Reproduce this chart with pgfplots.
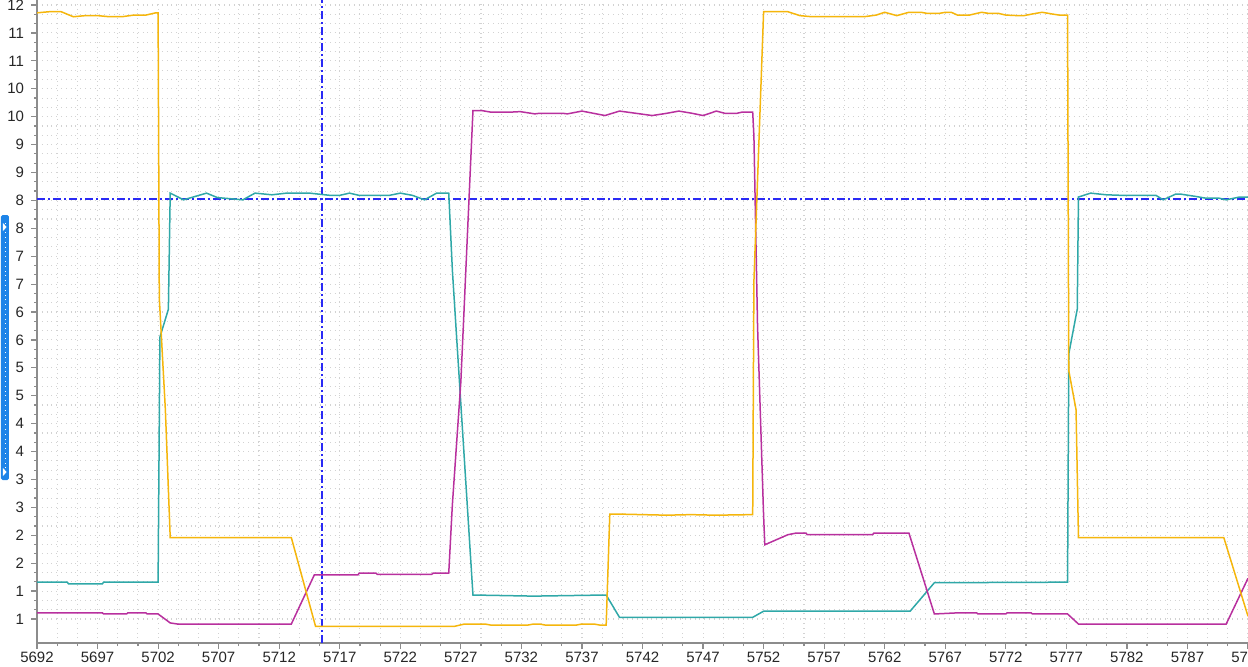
\documentclass[border=0pt]{standalone}
\usepackage{fontspec}
\setmainfont{Liberation Sans}
\usepackage{pgfplots}
\pgfplotsset{compat=1.18}

\definecolor{cyel}{HTML}{F5B60C}
\definecolor{cteal}{HTML}{2FA8A8}
\definecolor{cmag}{HTML}{B8309E}
\definecolor{cgrid}{HTML}{D2D2D2}
\definecolor{caxis}{HTML}{8C8C8C}
\definecolor{ccur}{HTML}{2A2AF5}
\definecolor{cslide}{HTML}{1E84E8}

\begin{document}
\begin{tikzpicture}
\begin{axis}[
  scale only axis, width=605.5pt, height=321.5pt,
  xmin=5692, xmax=5792, ymin=0.32, ymax=11.84,
  axis lines*=left,
  axis line style={caxis, line width=1pt},
  xtick={5692,5697,5702,5707,5712,5717,5722,5727,5732,5737,5742,5747,5752,5757,5762,5767,5772,5777,5782,5787,5792},
  ytick={0.75,1.25,1.75,2.25,2.75,3.25,3.75,4.25,4.75,5.25,5.75,6.25,6.75,7.25,7.75,8.25,8.75,9.25,9.75,10.25,10.75,11.25,11.75},
  yticklabels={1,1,2,2,3,3,4,4,5,5,6,6,7,7,8,8,9,9,10,10,11,11,12},
  minor x tick num=2, minor y tick num=2,
  tick align=outside, major tick length=3pt, minor tick length=1.5pt,
  tick style={caxis, line width=0.6pt},
  grid=both,
  major grid style={cgrid, dotted, line width=0.55pt},
  minor grid style={cgrid, dotted, line width=0.55pt},
  tick label style={font=\fontsize{7.5}{8}\selectfont, text=black!85},
  xticklabel style={yshift=1.8pt},
  /pgf/number format/assume math mode=true,
  /pgf/number format/1000 sep={},
  clip=true,
]
\coordinate (SW) at (rel axis cs:0,0);
\coordinate (NE) at (rel axis cs:1,1);

% cursor lines
\addplot[ccur, line width=0.85pt, dash pattern=on 4pt off 1.5pt on 1pt off 1.5pt] coordinates {(5692,8.28) (5792,8.28)};
\addplot[color=ccur, line width=1pt, dash pattern=on 4pt off 1.5pt on 1pt off 1.5pt] coordinates {(5715.55,0.32) (5715.55,11.84)};

% teal
\addplot[cteal, line width=0.75pt] coordinates {
(5692,1.41) (5694.5,1.41) (5694.6,1.38) (5697.4,1.38) (5697.5,1.41) (5702,1.41)
(5702.15,5.8) (5702.85,6.3) (5703,8.38) (5704.1,8.26) (5706,8.38) (5706.9,8.30)
(5709,8.26) (5710,8.38) (5711.4,8.35) (5712.6,8.38) (5714.5,8.38) (5716.2,8.34)
(5717,8.34) (5717.8,8.38) (5718.6,8.34) (5721.1,8.34) (5722,8.38) (5723,8.34)
(5724,8.26) (5725,8.38) (5726,8.38) (5726.3,7.0) (5728,1.18) (5733,1.16) (5739,1.18)
(5740.1,0.78) (5751.1,0.78) (5752,0.89) (5764.1,0.89) (5766.1,1.40) (5777.1,1.41)
(5777.2,5.5) (5777.9,6.3) (5778,8.31) (5779,8.38) (5780.3,8.35) (5781.6,8.34)
(5784.4,8.34) (5785,8.26) (5786,8.36) (5786.5,8.36) (5787.7,8.32) (5788.5,8.29)
(5789.6,8.29) (5790.2,8.26) (5791.3,8.31) (5792,8.31)
};

% magenta
\addplot[cmag, line width=0.75pt] coordinates {
(5692,0.86) (5697.4,0.86) (5697.5,0.84) (5699.4,0.84) (5699.5,0.86) (5701,0.86)
(5701.1,0.84) (5702,0.84) (5703,0.68) (5703.6,0.66) (5713,0.66) (5714.9,1.54)
(5718.5,1.54) (5718.6,1.57) (5720,1.57) (5720.1,1.55) (5724.6,1.55) (5724.7,1.57)
(5726,1.57) (5726.3,2.8) (5727,5.0) (5728,9.86) (5728.7,9.86) (5729.5,9.83) (5731,9.83)
(5731.9,9.84) (5733.1,9.80) (5733.5,9.81) (5735.4,9.81) (5735.8,9.80) (5737,9.85)
(5738.9,9.77) (5740.1,9.85) (5741.8,9.80) (5742.8,9.77) (5744,9.81) (5745,9.85)
(5746.1,9.81) (5747,9.77) (5748.1,9.85) (5748.8,9.81) (5749.8,9.81) (5750.2,9.83)
(5751.1,9.83) (5751.2,9.4) (5751.5,6.0) (5752,2.6) (5752.1,2.08) (5754,2.26)
(5754.7,2.29) (5755.5,2.29) (5755.6,2.26) (5761,2.26) (5761.1,2.29) (5764,2.29)
(5766.1,0.84) (5768,0.86) (5769.6,0.86) (5769.7,0.84) (5772,0.84) (5772.1,0.86)
(5774.1,0.86) (5774.2,0.84) (5777.1,0.84) (5778,0.66) (5790.2,0.66) (5792,1.48)
};

% yellow
\addplot[cyel, line width=0.75pt] coordinates {
(5692,11.61) (5693,11.63) (5694,11.63) (5695,11.54) (5696,11.56) (5697,11.56)
(5698,11.54) (5699,11.54) (5700,11.57) (5701,11.57) (5701.8,11.61) (5702,11.61)
(5702.1,6.5) (5702.6,4.5) (5703,2.21) (5713,2.21) (5715,0.62) (5726.5,0.62)
(5727.3,0.66) (5729,0.66) (5729.5,0.64) (5732.5,0.64) (5733,0.66) (5733.5,0.66)
(5734,0.64) (5736.5,0.64) (5737,0.66) (5738,0.66) (5738.5,0.64) (5739,0.64)
(5739.3,2.63) (5740,2.63) (5742,2.62) (5744,2.61) (5746,2.62) (5748,2.61)
(5751.1,2.62) (5751.2,6.8) (5752,11.63) (5754,11.63) (5755,11.56) (5756,11.54)
(5760.3,11.54) (5761.3,11.57) (5762,11.62) (5763,11.56) (5764,11.62) (5765,11.62)
(5765.5,11.60) (5766.5,11.60) (5767,11.62) (5767.5,11.62) (5768,11.57) (5769,11.57)
(5770,11.62) (5770.6,11.60) (5771.4,11.60) (5772,11.57) (5773,11.56) (5773.5,11.56)
(5774.2,11.59) (5775,11.62) (5775.8,11.59) (5776.4,11.57) (5777.1,11.57)
(5777.2,5.2) (5777.8,4.5) (5778,2.21) (5790,2.21) (5792,0.80)
};
\end{axis}
% side slider widget
\fill[cslide, rounded corners=0.8pt] ([xshift=-18pt,yshift=81.5pt]SW) rectangle ([xshift=-14pt,yshift=214pt]SW);
\draw[white, line width=0.4pt, dotted] ([xshift=-16pt,yshift=85pt]SW) -- ([xshift=-16pt,yshift=210pt]SW);
\fill[white] ([xshift=-17pt,yshift=210pt]SW) -- ([xshift=-17pt,yshift=206pt]SW) -- ([xshift=-15.2pt,yshift=208pt]SW) -- cycle;
\fill[white] ([xshift=-17pt,yshift=87.5pt]SW) -- ([xshift=-17pt,yshift=83.5pt]SW) -- ([xshift=-15.2pt,yshift=85.5pt]SW) -- cycle;
\pgfresetboundingbox
\path[use as bounding box] ([xshift=-18.5pt,yshift=-11.5pt]SW) rectangle (NE);
\end{tikzpicture}
\end{document}
